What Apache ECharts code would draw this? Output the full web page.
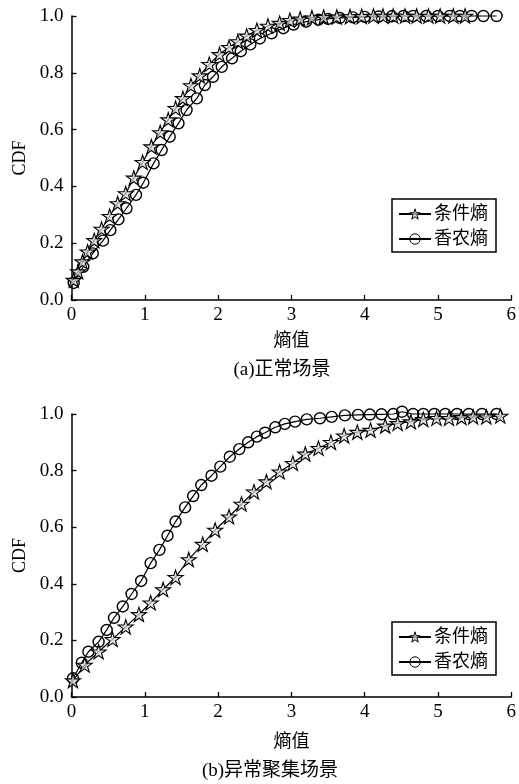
<!DOCTYPE html>
<html>
<head>
<meta charset="utf-8">
<script src="https://cdn.jsdelivr.net/npm/echarts@6/dist/echarts.min.js"></script>
<style>
  html, body { margin: 0; padding: 0; background: #fff; }
  #chart { width: 519px; height: 784px; }
</style>
</head>
<body>
<div id="chart"></div>
<script>
// (a) 正常场景
const aStarX = [0.03, 0.09, 0.15, 0.22, 0.31, 0.41, 0.52, 0.63, 0.74, 0.85, 0.97, 1.09, 1.21, 1.32, 1.42, 1.52, 1.63, 1.75, 1.88, 2.02, 2.15, 2.27, 2.39, 2.53, 2.68, 2.84, 2.98, 3.12, 3.28, 3.44, 3.62, 3.80, 3.96, 4.12, 4.25, 4.39, 4.55, 4.71, 4.87, 5.03, 5.21, 5.37]
const aStarY = [0.07, 0.10, 0.135, 0.17, 0.21, 0.25, 0.295, 0.34, 0.375, 0.43, 0.485, 0.54, 0.59, 0.635, 0.675, 0.71, 0.755, 0.79, 0.83, 0.865, 0.89, 0.91, 0.93, 0.95, 0.965, 0.975, 0.985, 0.99, 0.994, 0.996, 0.997, 0.998, 0.999, 1.0, 1.0, 1.0, 1.0, 1.0, 1.0, 1.0, 1.0, 1.0]
const aCircX = [0.03, 0.16, 0.29, 0.43, 0.53, 0.64, 0.75, 0.88, 0.98, 1.12, 1.23, 1.34, 1.46, 1.57, 1.71, 1.82, 1.93, 2.05, 2.19, 2.31, 2.44, 2.57, 2.73, 2.89, 3.03, 3.20, 3.37, 3.50, 3.66, 3.84, 4.00, 4.19, 4.37, 4.53, 4.66, 4.84, 5.00, 5.16, 5.30, 5.46, 5.62, 5.80]
const aCircY = [0.06, 0.117, 0.164, 0.209, 0.246, 0.284, 0.323, 0.37, 0.413, 0.481, 0.528, 0.575, 0.622, 0.669, 0.71, 0.757, 0.786, 0.821, 0.851, 0.876, 0.9, 0.921, 0.939, 0.957, 0.97, 0.98, 0.987, 0.99, 0.993, 0.995, 0.997, 0.998, 0.999, 1.0, 1.0, 1.0, 1.0, 1.0, 1.0, 1.0, 1.0, 1.0]

// (b) 异常聚集场景
const bStarX = [0.02, 0.18, 0.37, 0.56, 0.74, 0.92, 1.08, 1.25, 1.42, 1.60, 1.79, 1.96, 2.15, 2.32, 2.49, 2.66, 2.84, 3.02, 3.19, 3.37, 3.54, 3.72, 3.90, 4.08, 4.28, 4.45, 4.63, 4.80, 4.98, 5.15, 5.32, 5.48, 5.66, 5.85]
const bStarY = [0.058, 0.113, 0.16, 0.204, 0.248, 0.292, 0.333, 0.38, 0.423, 0.486, 0.54, 0.59, 0.637, 0.682, 0.725, 0.761, 0.796, 0.826, 0.859, 0.879, 0.9, 0.923, 0.936, 0.943, 0.958, 0.967, 0.973, 0.981, 0.985, 0.985, 0.988, 0.99, 0.99, 0.993]
const bCircX = [0.02, 0.14, 0.23, 0.37, 0.48, 0.58, 0.70, 0.82, 0.95, 1.08, 1.20, 1.31, 1.42, 1.55, 1.66, 1.77, 1.91, 2.03, 2.16, 2.29, 2.41, 2.53, 2.64, 2.78, 2.91, 3.05, 3.21, 3.39, 3.55, 3.73, 3.91, 4.07, 4.23, 4.39, 4.51, 4.66, 4.80, 4.95, 5.10, 5.26, 5.42, 5.60, 5.80]
const bCircY = [0.066, 0.121, 0.16, 0.195, 0.237, 0.28, 0.32, 0.364, 0.41, 0.473, 0.52, 0.57, 0.62, 0.67, 0.71, 0.749, 0.782, 0.814, 0.849, 0.876, 0.9, 0.92, 0.934, 0.953, 0.965, 0.973, 0.981, 0.985, 0.99, 0.995, 0.997, 0.998, 0.999, 1.0, 1.008, 1.0, 1.0, 1.0, 1.0, 1.0, 1.0, 1.0, 1.0]

const seriesNames = ['条件熵', '香农熵']
const xTicks = [0, 1, 2, 3, 4, 5, 6]
const yTicks = [0, 0.2, 0.4, 0.6, 0.8, 1.0]
const xName = '熵值'
const yName = 'CDF'
const captions = ['(a)正常场景', '(b)异常聚集场景']

const serif = '"Times New Roman", "Liberation Serif", serif'
const cjk = '"Times New Roman", "Liberation Serif", "Noto Sans CJK SC", serif'
const starPath = 'path://M50,2 L61,36 L97,36 L68,57 L79,92 L50,71 L21,92 L32,57 L3,36 L39,36 Z'

const zip = (xs, ys) => xs.map((x, i) => [x, ys[i]])

const myChart = echarts.init(document.getElementById('chart'))

const grids = [
  { left: 71.5, top: 16, width: 440, height: 284 },
  { left: 71.5, top: 414, width: 440, height: 283 }
]

const axisLine = { show: true, onZero: false, lineStyle: { color: '#000', width: 1.5 } }

function xAxisFor (gi, gap) {
  return {
    type: 'value',
    gridIndex: gi,
    min: xTicks[0],
    max: xTicks[xTicks.length - 1],
    interval: 1,
    name: xName,
    nameLocation: 'middle',
    nameGap: gap,
    nameTextStyle: { color: '#000', fontSize: 18, fontFamily: cjk },
    axisLine: axisLine,
    axisTick: { show: true, inside: true, length: 5, lineStyle: { color: '#000', width: 1.3 } },
    axisLabel: { color: '#000', fontSize: 19, fontFamily: serif, margin: 6 },
    splitLine: { show: false }
  }
}

function yAxisFor (gi) {
  return {
    type: 'value',
    gridIndex: gi,
    min: yTicks[0],
    max: yTicks[yTicks.length - 1],
    interval: 0.2,
    name: yName,
    nameLocation: 'middle',
    nameGap: 41,
    nameTextStyle: { color: '#000', fontSize: 18, fontFamily: serif },
    axisLine: axisLine,
    axisTick: { show: true, inside: true, length: 5, lineStyle: { color: '#000', width: 1.3 } },
    axisLabel: { color: '#000', fontSize: 19, fontFamily: serif, margin: 8, formatter: v => v.toFixed(1) },
    splitLine: { show: false }
  }
}

function lineSeries (name, gi, data, isStar) {
  return {
    name: name,
    type: 'line',
    xAxisIndex: gi,
    yAxisIndex: gi,
    data: data,
    clip: false,
    symbol: isStar ? starPath : 'circle',
    symbolSize: isStar ? 15 : 11,
    symbolKeepAspect: true,
    showAllSymbol: true,
    lineStyle: { color: '#000', width: 1.2 },
    itemStyle: {
      color: isStar ? 'rgba(215,215,215,0.7)' : 'rgba(255,255,255,0)',
      borderColor: '#000',
      borderWidth: isStar ? 1.1 : 1.4
    },
    emphasis: { disabled: true },
    animation: false
  }
}

function legendFor (top) {
  return {
    data: seriesNames,
    orient: 'vertical',
    left: 392,
    top: top,
    width: 109,
    padding: [6, 8, 4, 6],
    itemGap: 7,
    itemWidth: 32,
    itemHeight: 13,
    borderColor: '#000',
    borderWidth: 1.5,
    borderRadius: 0,
    itemStyle: { borderWidth: 1 },
    textStyle: { color: '#000', fontSize: 18, fontFamily: cjk, padding: [0, 0, 0, -2] }
  }
}

const option = {
  backgroundColor: '#fff',
  animation: false,
  grid: grids,
  xAxis: [xAxisFor(0, 32), xAxisFor(1, 36)],
  yAxis: [yAxisFor(0), yAxisFor(1)],
  legend: [legendFor(199), legendFor(622)],
  series: [
    lineSeries(seriesNames[1], 0, zip(aCircX, aCircY), false),
    lineSeries(seriesNames[0], 0, zip(aStarX, aStarY), true),
    lineSeries(seriesNames[1], 1, zip(bCircX, bCircY), false),
    lineSeries(seriesNames[0], 1, zip(bStarX, bStarY), true)
  ],
  graphic: [
    { type: 'text', x: 282, y: 370, style: { text: captions[0], fill: '#000', font: '19px ' + cjk, align: 'center', verticalAlign: 'middle' } },
    { type: 'text', x: 270, y: 771, style: { text: captions[1], fill: '#000', font: '19px ' + cjk, align: 'center', verticalAlign: 'middle' } }
  ]
}

myChart.setOption(option)
</script>
</body>
</html>
